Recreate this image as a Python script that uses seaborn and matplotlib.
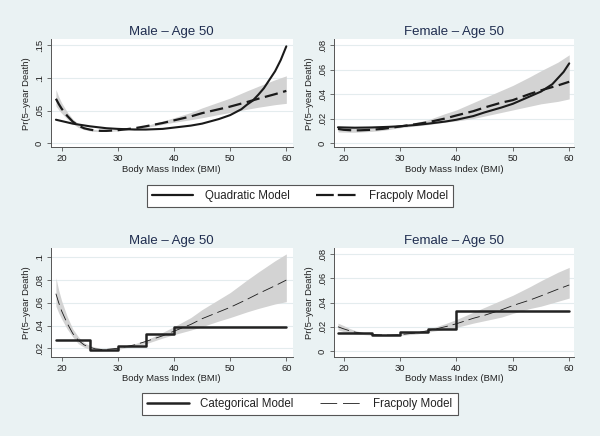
import numpy as np
import pandas as pd
import matplotlib
matplotlib.use("Agg")
import matplotlib.pyplot as plt
from matplotlib.lines import Line2D
import seaborn as sns

# ---------------- data ----------------
bmi_m = [19, 19.5, 20, 21, 22, 23, 24, 25, 26, 27, 28, 30, 33, 35, 38, 40, 43, 45, 48, 50, 53, 55, 58, 60]
male_frac = [.068, .060, .053, .042, .033, .027, .023, .021, .0195, .019, .019, .020, .023, .026, .031,
             .035, .041, .046, .052, .056, .063, .068, .075, .080]
male_frac_hi = [.082, .071, .062, .048, .037, .030, .025, .0225, .021, .020, .020, .021, .024, .027, .034,
                .039, .047, .054, .063, .069, .080, .087, .097, .103]
male_frac_lo = [.057, .051, .046, .037, .030, .024, .021, .019, .018, .018, .018, .019, .022, .024, .029,
                .032, .036, .039, .044, .047, .052, .055, .059, .061]

bmi_mq = [19, 20, 22, 25, 28, 30, 33, 35, 38, 40, 43, 45, 48, 50, 52, 53, 54, 55, 56, 57, 58, 59, 60]
male_quad = [.036, .034, .030, .026, .023, .022, .021, .021, .022, .024, .027, .030, .037, .043, .052,
             .059, .065, .074, .084, .097, .110, .127, .148]

bmi_f = [19, 20, 21, 22, 23, 25, 27, 28, 30, 33, 35, 38, 40, 43, 45, 48, 50, 53, 55, 58, 60]
fem_frac_top = [.0115, .0108, .0105, .0103, .0104, .0108, .0116, .0122, .0135, .0155, .017, .020, .0225,
                .026, .029, .033, .035, .040, .043, .047, .050]
fem_frac_top_hi = [.014, .0133, .0128, .0125, .0125, .0125, .013, .0135, .0145, .017, .019, .024, .027,
                   .033, .037, .043, .047, .054, .059, .066, .072]
fem_frac_top_lo = [.009, .0089, .0088, .0088, .009, .0095, .0103, .011, .0125, .014, .015, .017, .018,
                   .020, .022, .025, .027, .030, .032, .034, .036]

bmi_fq = [19, 22, 25, 28, 30, 33, 35, 38, 40, 43, 45, 48, 50, 53, 55, 57, 58, 59, 60]
fem_quad = [.0128, .0125, .0127, .0132, .0137, .0148, .0158, .0175, .019, .022, .025, .029, .032, .038,
            .042, .048, .053, .058, .065]

fem_frac_bot = [.020, .0183, .0168, .0156, .0148, .0137, .0132, .0131, .0135, .015, .0168, .020, .0225,
                .027, .0295, .034, .0375, .042, .0455, .051, .0545]
fem_frac_bot_hi = [.023, .021, .0187, .017, .0158, .0145, .0138, .0137, .0141, .016, .018, .0225, .026,
                   .032, .036, .042, .046, .053, .058, .065, .069]
fem_frac_bot_lo = [.0175, .016, .015, .0142, .0138, .013, .0126, .0125, .0129, .014, .0156, .018, .0195,
                   .023, .025, .028, .031, .035, .037, .041, .0437]

cat_edges = [19, 25, 30, 35, 40, 60]
male_cat = [.0275, .0185, .022, .0325, .0388, .0388]
fem_cat = [.0145, .0135, .0155, .0185, .0328, .0328]

xticks = [20, 30, 40, 50, 60]
yt_m_top = [0, .05, .1, .15]
yl_m_top = ["0", ".05", ".1", ".15"]
yt_f = [0, .02, .04, .06, .08]
yl_f = ["0", ".02", ".04", ".06", ".08"]
yt_m_bot = [.02, .04, .06, .08, .1]
yl_m_bot = [".02", ".04", ".06", ".08", ".1"]

# ---------------- style ----------------
sns.set_style("white")
plt.rcParams['font.family'] = ['Liberation Sans', 'DejaVu Sans']
BG = "#EAF2F3"
INK = "#1a1a1a"
BAND = "#D3D3D3"
TITLE = "#1F2D4F"

fig = plt.figure(figsize=(6.0, 4.36), dpi=100, facecolor=BG)

W, H = 600.0, 436.0
def axes_px(l, r, t, b):
    return fig.add_axes([l / W, 1 - b / H, (r - l) / W, (b - t) / H])

ax_tl = axes_px(50.7, 292.5, 39, 147.3)
ax_tr = axes_px(334, 574.3, 39, 147.3)
ax_bl = axes_px(50.7, 292.5, 248, 356.7)
ax_br = axes_px(334, 574.3, 248, 356.7)

def style(ax, title, yt, yl, ylim, xlim):
    ax.set_facecolor("white")
    ax.set_xlim(*xlim)
    ax.set_ylim(*ylim)
    ax.set_xticks(xticks)
    ax.set_xticklabels([str(v) for v in xticks])
    ax.set_yticks(yt)
    ax.set_yticklabels(yl, rotation=90, va="center")
    for y in yt:
        ax.axhline(y, color="#E4ECEE", lw=0.8, zorder=0)
    for s in ["top", "right"]:
        ax.spines[s].set_visible(False)
    for s in ["left", "bottom"]:
        ax.spines[s].set_color("#555555")
        ax.spines[s].set_linewidth(0.7)
    ax.tick_params(axis="both", direction="out", length=3, width=0.6, color="#555555",
                   labelsize=6.8, labelcolor="#222222", pad=2, left=True, bottom=True)
    ax.set_xlabel("Body Mass Index (BMI)", fontsize=6.8, color="#222222", labelpad=1)
    ax.set_ylabel("Pr(5–year Death)", fontsize=6.8, color="#222222", labelpad=3)
    ax.set_title(title, fontsize=9.5, color=TITLE, pad=3)

# ---- top left: male quadratic vs fracpoly ----
df = pd.DataFrame({"bmi": bmi_m, "p": male_frac, "lo": male_frac_lo, "hi": male_frac_hi})
ax_tl.fill_between(df["bmi"], df["lo"], df["hi"], color=BAND, lw=0, zorder=1)
sns.lineplot(data=df, x="bmi", y="p", ax=ax_tl, color=INK, lw=1.6, errorbar=None,
             linestyle=(0, (6, 2.5)), zorder=3)
dq = pd.DataFrame({"bmi": bmi_mq, "p": male_quad})
sns.lineplot(data=dq, x="bmi", y="p", ax=ax_tl, color=INK, lw=1.5, errorbar=None, zorder=4)
style(ax_tl, "Male – Age 50", yt_m_top, yl_m_top, (-0.0061, 0.1592), (18.07, 61.1))

# ---- top right: female quadratic vs fracpoly ----
df = pd.DataFrame({"bmi": bmi_f, "p": fem_frac_top, "lo": fem_frac_top_lo, "hi": fem_frac_top_hi})
ax_tr.fill_between(df["bmi"], df["lo"], df["hi"], color=BAND, lw=0, zorder=1)
sns.lineplot(data=df, x="bmi", y="p", ax=ax_tr, color=INK, lw=1.6, errorbar=None,
             linestyle=(0, (6, 2.5)), zorder=3)
dq = pd.DataFrame({"bmi": bmi_fq, "p": fem_quad})
sns.lineplot(data=dq, x="bmi", y="p", ax=ax_tr, color=INK, lw=1.5, errorbar=None, zorder=4)
style(ax_tr, "Female – Age 50", yt_f, yl_f, (-0.0035, 0.0849), (18.3, 60.9))

# ---- bottom left: male categorical vs fracpoly ----
df = pd.DataFrame({"bmi": bmi_m, "p": male_frac, "lo": male_frac_lo, "hi": male_frac_hi})
ax_bl.fill_between(df["bmi"], df["lo"], df["hi"], color=BAND, lw=0, zorder=1)
sns.lineplot(data=df, x="bmi", y="p", ax=ax_bl, color=INK, lw=0.6, errorbar=None,
             linestyle=(0, (14, 6)), zorder=3)
dc = pd.DataFrame({"bmi": cat_edges, "p": male_cat})
sns.lineplot(data=dc, x="bmi", y="p", ax=ax_bl, color="#222222", lw=1.8, errorbar=None,
             drawstyle="steps-post", zorder=4)
style(ax_bl, "Male – Age 50", yt_m_bot, yl_m_bot, (0.0126, 0.1082), (18.07, 61.1))

# ---- bottom right: female categorical vs fracpoly ----
df = pd.DataFrame({"bmi": bmi_f, "p": fem_frac_bot, "lo": fem_frac_bot_lo, "hi": fem_frac_bot_hi})
ax_br.fill_between(df["bmi"], df["lo"], df["hi"], color=BAND, lw=0, zorder=1)
sns.lineplot(data=df, x="bmi", y="p", ax=ax_br, color=INK, lw=0.6, errorbar=None,
             linestyle=(0, (14, 6)), zorder=3)
dc = pd.DataFrame({"bmi": cat_edges, "p": fem_cat})
sns.lineplot(data=dc, x="bmi", y="p", ax=ax_br, color="#222222", lw=1.8, errorbar=None,
             drawstyle="steps-post", zorder=4)
style(ax_br, "Female – Age 50", yt_f, yl_f, (-0.0047, 0.085), (18.3, 60.9))

# ---- legends ----
def make_legend(handles, labels, ycenter, colsp):
    leg = fig.legend(handles, labels, loc="center", bbox_to_anchor=(0.5, 1 - ycenter / H),
                     ncol=2, frameon=True, fancybox=False, fontsize=8.3, handlelength=3.6,
                     handletextpad=1.0, columnspacing=colsp, borderpad=0.45, borderaxespad=0)
    fr = leg.get_frame()
    fr.set_facecolor("white")
    fr.set_edgecolor("#555555")
    fr.set_linewidth(0.8)
    fr.set_alpha(1)
    for t in leg.get_texts():
        t.set_color("#222222")
    return leg

h1 = [Line2D([], [], color=INK, lw=1.6),
      Line2D([], [], color=INK, lw=1.6, linestyle=(0, (8, 1.8)))]
make_legend(h1, ["Quadratic Model", "Fracpoly Model"], 196, 2.3)
h2 = [Line2D([], [], color="#222222", lw=1.8),
      Line2D([], [], color=INK, lw=0.6, linestyle=(0, (20, 7)))]
make_legend(h2, ["Categorical Model", "Fracpoly Model"], 404, 2.3)

fig.savefig("out.png", dpi=100, facecolor=BG)
